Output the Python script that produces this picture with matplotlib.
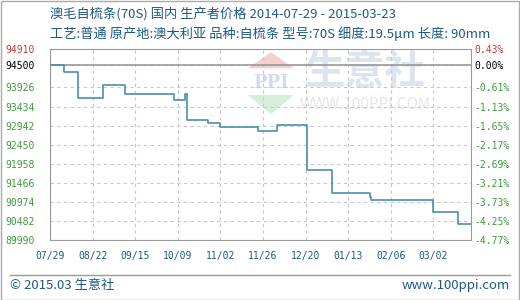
import numpy as np
import pandas as pd
import matplotlib
matplotlib.use("Agg")
import matplotlib.pyplot as plt
from matplotlib.patches import Polygon, Rectangle

plt.rcParams['font.family'] = ['Noto Sans CJK SC', 'DejaVu Sans']

# price change points (step series)
change_dates = ['2014-07-29', '2014-08-06', '2014-08-14', '2014-08-28', '2014-09-09',
                '2014-10-07', '2014-10-13', '2014-10-14', '2014-10-26', '2014-11-02',
                '2014-11-23', '2014-12-04', '2014-12-21', '2015-01-04', '2015-01-25',
                '2015-01-26', '2015-03-02', '2015-03-16', '2015-03-23']
prices = [94500, 94320, 93650, 93980, 93750,
          93600, 93750, 93090, 93000, 92910,
          92800, 92950, 91800, 91200, 91110,
          91010, 90700, 90410, 90410]

y_ticks = [94910, 94500, 93926, 93434, 92942, 92450, 91958, 91466, 90974, 90482, 89990]
pct_labels = ['0.43%', '0.00%', '-0.61%', '-1.13%', '-1.65%', '-2.17%',
              '-2.69%', '-3.21%', '-3.73%', '-4.25%', '-4.77%']
x_labels = ['07/29', '08/22', '09/15', '10/09', '11/02', '11/26', '12/20', '01/13', '02/06', '03/02']

title1 = '澳毛自梳条(70S) 国内 生产者价格 2014-07-29 - 2015-03-23'
title2 = '工艺:普通 原产地:澳大利亚 品种:自梳条 型号:70S 细度:19.5μm 长度: 90mm'

dates = pd.to_datetime(change_dates)
x_ticks = pd.date_range('2014-07-29', periods=10, freq='24D')

blue_txt = '#1d5a84'
green = '#3f9a3f'
red = '#c43c3c'
mono = 'DejaVu Sans Mono'

fig = plt.figure(figsize=(5.2, 3.0), dpi=100)
W, H = 520, 300
ax = fig.add_axes([50 / W, 1 - 240 / H, 420.7 / W, 190.7 / H])

# watermark logo
ax.add_patch(Polygon([[0.525, 0.985], [0.47, 0.9], [0.58, 0.9]], closed=True,
                     transform=ax.transAxes, color='#f4d0d0', zorder=0, lw=0))
ax.add_patch(Polygon([[0.525, 0.66], [0.47, 0.76], [0.58, 0.76]], closed=True,
                     transform=ax.transAxes, color='#d6eedb', zorder=0, lw=0))
ax.text(0.525, 0.825, 'PPI', transform=ax.transAxes, ha='center', va='center',
        fontsize=13, color='#d4dcec', family='DejaVu Serif', fontweight='bold', zorder=0)
ax.text(0.75, 0.88, '生意社', transform=ax.transAxes, ha='center', va='center',
        fontsize=29, color='#dde4ef', fontweight='bold', zorder=0)
ax.text(0.75, 0.71, 'WWW.100PPI.COM', transform=ax.transAxes, ha='center', va='center',
        fontsize=11, color='#e6e6e6', zorder=0)

ax.plot(dates, prices, drawstyle='steps-post', color='#4b8db3', lw=1.2, zorder=3)
ax.axhline(94500, color='#999999', lw=1.2, zorder=2)

ax.set_xlim(pd.Timestamp('2014-07-29'), pd.Timestamp('2015-03-23'))
ax.set_ylim(89990, 94910)
ax.set_yticks(y_ticks)
ax.set_yticklabels([str(v) for v in y_ticks], family=mono, fontsize=7)
for lab in ax.get_yticklabels():
    lab.set_color(green)
ax.get_yticklabels()[0].set_color(red)
ax.get_yticklabels()[1].set_color('black')
ax.set_xticks(x_ticks)
ax.set_xticklabels(x_labels, family=mono, fontsize=7, color=blue_txt)
ax.tick_params(length=0)
ax.tick_params(axis='x', pad=8)
ax.tick_params(axis='y', pad=11)
ax.grid(True, color='#c8c8c8', ls=(0, (3, 3)), lw=0.8)
for s in ax.spines.values():
    s.set_color('#999999')

ax2 = ax.twinx()
ax2.set_ylim(89990, 94910)
ax2.set_yticks(y_ticks)
ax2.set_yticklabels(pct_labels, family=mono, fontsize=7)
for lab in ax2.get_yticklabels():
    lab.set_color(green)
ax2.get_yticklabels()[0].set_color(red)
ax2.get_yticklabels()[1].set_color('black')
ax2.tick_params(length=0, pad=2.5)
for s in ax2.spines.values():
    s.set_visible(False)

fig.text(50 / W, 1 - 15 / H, title1, fontsize=9.5, color=blue_txt, va='center')
fig.text(50 / W, 1 - 34 / H, title2, fontsize=9.5, color=blue_txt, va='center')

# footer
fig.add_artist(plt.Line2D([10 / W, 510 / W], [1 - 275 / H, 1 - 275 / H], color='#999999', lw=1))
fig.text(10 / W, 1 - 286 / H, '© 2015.03 生意社', fontsize=9.5, color=blue_txt, va='center')
fig.text(510 / W, 1 - 286 / H, 'www.100ppi.com', fontsize=9.5, color=blue_txt, va='center', ha='right')
fig.add_artist(Rectangle((0.5 / W, 0.5 / H), 1 - 1.5 / W, 1 - 1.5 / H, transform=fig.transFigure,
                         fill=False, edgecolor='#aaaaaa', lw=1))

fig.savefig('out.png', dpi=100)
